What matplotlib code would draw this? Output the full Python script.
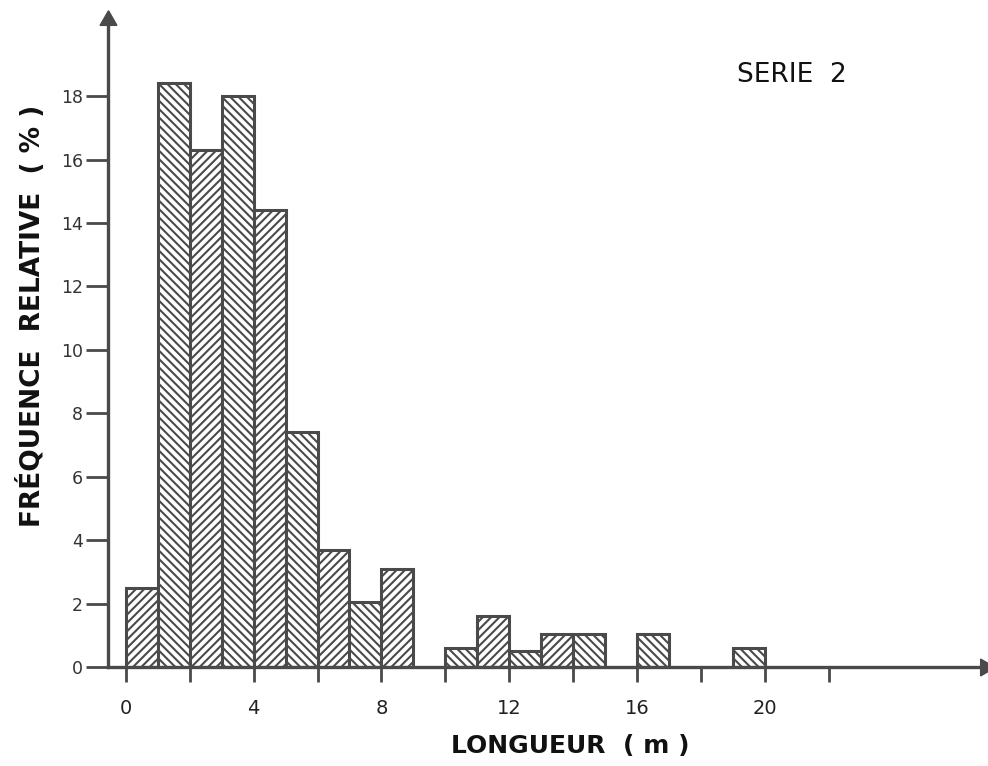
import matplotlib
matplotlib.use("Agg")
import matplotlib.pyplot as plt
import numpy as np

# Length classes (left edge of each 1 m class) and relative frequency in %
class_left = [0, 1, 2, 3, 4, 5, 6, 7, 8, 9, 10, 11, 12, 13, 14, 15, 16, 17, 18, 19]
rel_freq = [2.5, 18.4, 16.3, 18.0, 14.4, 7.4, 3.7, 2.05, 3.1, 0.0,
            0.6, 1.6, 0.5, 1.05, 1.05, 0.0, 1.05, 0.0, 0.0, 0.6]
fwd, back = "////", "\\\\\\\\"
hatches = [fwd, back, fwd, back, fwd, back, fwd, back, fwd, "",
           back, fwd, back, fwd, back, "", back, "", "", back]

x_ticks = [0, 2, 4, 6, 8, 10, 12, 14, 16, 18, 20, 22]
x_ticklabels = ["0", "", "4", "", "8", "", "12", "", "16", "", "20", ""]
y_ticks = [0, 2, 4, 6, 8, 10, 12, 14, 16, 18]
y_ticklabels = ["0", "2", "4", "6", "8", "10", "12", "14", "16", "18"]

ink = "#4a4a4a"
plt.rcParams["hatch.linewidth"] = 1.5
plt.rcParams["font.family"] = ["DejaVu Sans"]

fig = plt.figure(figsize=(9.88, 7.66), dpi=100)
ax = fig.add_axes([108 / 988, (766 - 667) / 766, (985 - 108) / 988, (667 - 20) / 766])
ax.set_xlim(-0.56, 26.9)
ax.set_ylim(0, 20.4)

for left, h, hat in zip(class_left, rel_freq, hatches):
    if h <= 0:
        continue
    ax.bar(left, h, width=1.0, align="edge", facecolor="white",
           edgecolor=ink, linewidth=2.2, hatch=hat, zorder=2)

for side in ("top", "right"):
    ax.spines[side].set_visible(False)
for side in ("left", "bottom"):
    ax.spines[side].set_color(ink)
    ax.spines[side].set_linewidth(2.4)

# Arrow heads at the ends of both axes
ax.plot(1, 0, marker=(3, 0, -90), markersize=14, color=ink,
        transform=ax.transAxes, clip_on=False, zorder=5)
ax.plot(0, 1, marker=(3, 0, 0), markersize=14, color=ink,
        transform=ax.transAxes, clip_on=False, zorder=5)

ax.set_xticks(x_ticks)
ax.set_xticklabels(x_ticklabels, fontsize=14, color="#222222")
ax.tick_params(axis="x", direction="out", length=11, width=2, color=ink, pad=12)
ax.set_yticks(y_ticks)
ax.set_yticklabels(y_ticklabels, fontsize=12.5, color="#333333")
ax.tick_params(axis="y", direction="out", length=16, width=2, color=ink, pad=2)

fig.text(32 / 988, 1 - 316 / 766, "FRÉQUENCE  RELATIVE  ( % )", rotation=90,
         ha="center", va="center", fontsize=19, fontweight="bold", color="#111111")
fig.text(570 / 988, 1 - 746 / 766, "LONGUEUR  ( m )", ha="center", va="center",
         fontsize=18, fontweight="bold", color="#111111")
fig.text(792 / 988, 1 - 75 / 766, "SERIE  2", ha="center", va="center",
         fontsize=19, color="#111111")

fig.savefig("out.png", dpi=100, facecolor="white")
